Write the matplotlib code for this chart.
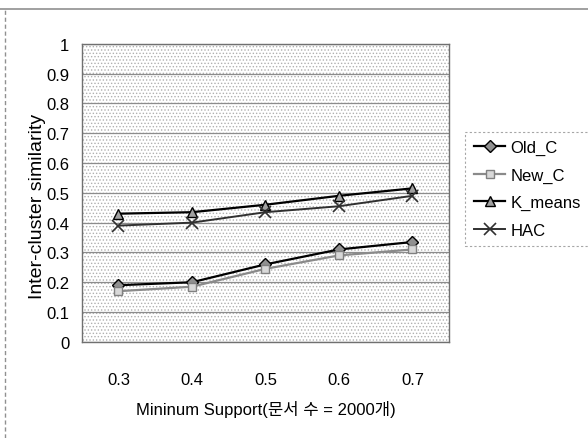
import matplotlib.pyplot as plt
from matplotlib.patches import Rectangle
from matplotlib.lines import Line2D

plt.rcParams['font.family'] = ['Liberation Sans', 'Noto Sans CJK KR', 'DejaVu Sans']
plt.rcParams['hatch.color'] = '#b0b0b0'
plt.rcParams['hatch.linewidth'] = 0.6

# 데이터
supports = ['0.3', '0.4', '0.5', '0.6', '0.7']
old_c = [0.19, 0.20, 0.26, 0.31, 0.335]
new_c = [0.17, 0.185, 0.245, 0.29, 0.31]
k_means = [0.43, 0.435, 0.46, 0.49, 0.515]
hac = [0.39, 0.40, 0.435, 0.455, 0.49]

fig = plt.figure(figsize=(5.88, 4.39), dpi=100)
ax = fig.add_axes([0.139, 0.219, 0.625, 0.679])

# 배경 점무늬
ax.add_patch(Rectangle((0, 0), 1, 1, transform=ax.transAxes, facecolor='white',
                       hatch='.....', linewidth=0, zorder=0))

x = range(len(supports))
ax.plot(x, old_c, color='black', lw=1.6, marker='D', ms=6, mfc='#909090', mec='black', label='Old_C', zorder=3)
ax.plot(x, new_c, color='#8a8a8a', lw=1.6, marker='s', ms=6, mfc='#d8d8d8', mec='#808080', label='New_C', zorder=3)
ax.plot(x, k_means, color='black', lw=1.6, marker='^', ms=7, mfc='#a0a0a0', mec='black', label='K_means', zorder=3)
ax.plot(x, hac, color='#303030', lw=1.4, marker='x', ms=9, mew=1.2, label='HAC', zorder=3)

ax.set_xlim(-0.5, 4.5)
ax.set_ylim(0, 1)
ax.set_yticks([i / 10 for i in range(11)])
ax.set_yticklabels(['0', '0.1', '0.2', '0.3', '0.4', '0.5', '0.6', '0.7', '0.8', '0.9', '1'])
ax.set_xticks(list(x))
ax.set_xticklabels(supports)
ax.tick_params(axis='both', length=0, labelsize=12)
ax.tick_params(axis='x', pad=22)
ax.tick_params(axis='y', pad=9)
ax.grid(axis='y', color='#8c8c8c', lw=0.9, zorder=1)
for s in ax.spines.values():
    s.set_color('#707070')
    s.set_linestyle((0, (2, 1)))
    s.set_linewidth(1.0)

ax.set_xlabel('Mininum Support(문서 수 = 2000개)', fontsize=12, labelpad=9)
fig.text(0.064, 0.53, 'Inter-cluster similarity', rotation=90, fontsize=14,
         ha='center', va='center')

leg = ax.legend(loc='upper left', bbox_to_anchor=(1.044, 0.705), fontsize=12,
                frameon=True, fancybox=False, handlelength=1.9, borderaxespad=0,
                labelspacing=0.75, borderpad=0.5, handletextpad=0.3)
leg.get_frame().set_edgecolor('#909090')
leg.get_frame().set_linestyle((0, (2, 2)))
leg.get_frame().set_linewidth(0.8)

# 바깥 테두리
fig.add_artist(Line2D([0.0, 1.0], [0.977, 0.977], color='#909090', lw=1.2))
fig.add_artist(Line2D([0.009, 0.009], [0.0, 0.977], color='#909090', lw=1.0, ls=(0, (3, 2))))

fig.savefig('out.png', dpi=100)
